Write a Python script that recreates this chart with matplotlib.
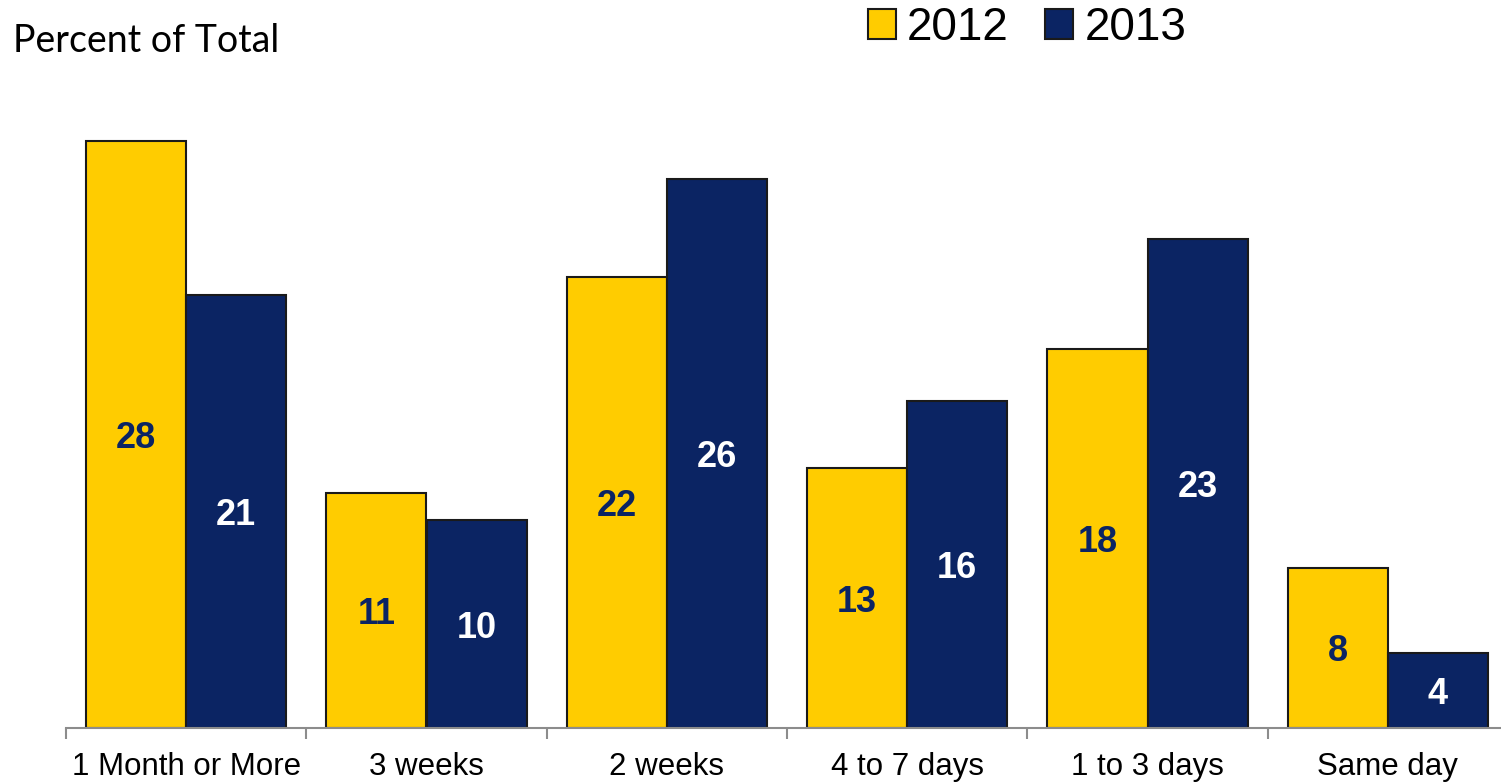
import matplotlib
matplotlib.use("Agg")
import matplotlib.pyplot as plt
import numpy as np
from matplotlib.patches import Patch

categories = ["1 Month or More", "3 weeks", "2 weeks", "4 to 7 days", "1 to 3 days", "Same day"]
values_2012 = [28.2, 11.3, 21.7, 12.5, 18.2, 7.7]
values_2013 = [20.8, 10.0, 26.4, 15.7, 23.5, 3.6]
labels_2012 = ["28", "11", "22", "13", "18", "8"]
labels_2013 = ["21", "10", "26", "16", "23", "4"]
series_names = ["2012", "2013"]

YELLOW = "#FFCC00"
NAVY = "#0B2463"
EDGE = "#1a1a1a"

W, H = 1501, 784
fig = plt.figure(figsize=(W / 100, H / 100), dpi=100)
ax = fig.add_axes([66 / W, 56 / H, 1442 / W, 624 / H])

x = np.arange(len(categories))
bw = 100 / 240.3
ax.bar(x - bw / 2, values_2012, width=bw, color=YELLOW, edgecolor=EDGE, linewidth=1.5, zorder=3, label=series_names[0])
ax.bar(x + bw / 2, values_2013, width=bw, color=NAVY, edgecolor=EDGE, linewidth=1.5, zorder=3, label=series_names[1])

for xi, v, lab in zip(x - bw / 2, values_2012, labels_2012):
    ax.text(xi, v / 2, lab, ha="center", va="center_baseline", fontsize=26, fontweight="bold",
            color=NAVY, family="Liberation Sans", zorder=4)
for xi, v, lab in zip(x + bw / 2, values_2013, labels_2013):
    ax.text(xi, v / 2, lab, ha="center", va="center_baseline", fontsize=26, fontweight="bold",
            color="white", family="Liberation Sans", zorder=4)

ax.set_xlim(-0.5, len(categories) - 0.5)
ax.set_ylim(0, 30)
ax.set_yticks([])
for s in ["top", "right", "left"]:
    ax.spines[s].set_visible(False)
ax.spines["bottom"].set_color("#8c8c8c")
ax.spines["bottom"].set_linewidth(1.5)
ax.spines["bottom"].set_zorder(5)

ax.set_xticks(x)
ax.set_xticklabels(categories, fontsize=22.5, family="Liberation Sans")
ax.tick_params(axis="x", which="major", length=0, pad=17)
ax.set_xticks(np.arange(len(categories) + 1) - 0.5, minor=True)
ax.tick_params(axis="x", which="minor", length=8, width=1.5, color="#8c8c8c", direction="out")

fig.text(13 / W, 1 - 52 / H, "Percent of Total", fontsize=27, family="Lato", ha="left", va="baseline")

handles = [Patch(facecolor=YELLOW, edgecolor=EDGE, linewidth=1.5),
           Patch(facecolor=NAVY, edgecolor=EDGE, linewidth=1.5)]
leg = fig.legend(handles, series_names, loc="upper left", bbox_to_anchor=(868 / W, 1 - 6 / H),
                 ncol=2, frameon=False, prop={"family": "Liberation Sans", "size": 33},
                 handlelength=0.61, handleheight=0.61, handletextpad=0.24, columnspacing=0.8,
                 borderaxespad=0, borderpad=0)

fig.savefig("out.png", dpi=100)
